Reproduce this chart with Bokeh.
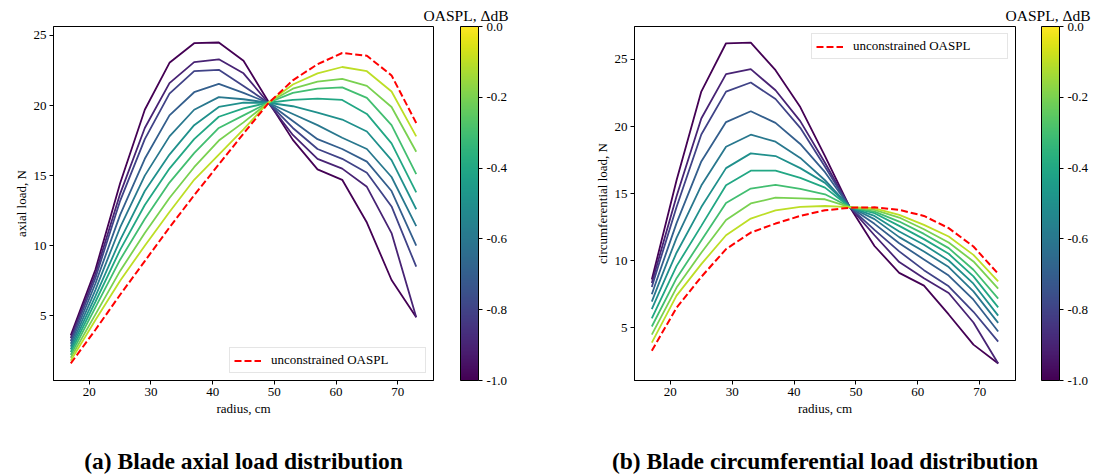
from bokeh.plotting import figure
from bokeh.layouts import row
from bokeh.models import (Range1d, FixedTicker, PrintfTickFormatter, LinearAxis,
                          Legend, LegendItem, ColorBar, LinearColorMapper)
from bokeh.palettes import Viridis256
from bokeh.embed import file_html
from bokeh.resources import INLINE

# ---------------- data ----------------
radius_cm = [17, 21, 25, 29, 33, 37, 41, 45, 49, 53, 57, 61, 65, 69, 73]
oaspl_levels = [-1.0, -0.9, -0.8, -0.7, -0.6, -0.5, -0.4, -0.3, -0.2, -0.1]
colorbar_ticks = [-1.0, -0.8, -0.6, -0.4, -0.2, 0.0]
x_ticks = [20, 30, 40, 50, 60, 70]
axial_y_ticks = [5, 10, 15, 20, 25]
circ_y_ticks = [5, 10, 15, 20, 25]

# axial load, N  (one list per OASPL constraint level)
axial_m10 = [3.6, 8.3, 14.45, 19.7, 23.05, 24.45, 24.5, 23.2, 20.3, 17.55, 15.45, 14.7, 11.65, 7.55, 4.9]
axial_m09 = [3.4, 8.0, 13.7, 18.4, 21.6, 23.1, 23.3, 22.3, 20.2, 17.9, 16.2, 15.5, 14.2, 10.9, 4.9]
axial_m08 = [3.2, 7.7, 13.2, 17.6, 20.85, 22.45, 22.55, 21.4, 20.2, 18.4, 16.9, 16.2, 15.2, 12.8, 8.5]
axial_m07 = [3.0, 7.3, 12.2, 16.2, 19.3, 20.95, 21.55, 20.9, 20.2, 18.9, 17.6, 16.9, 16.0, 13.9, 10.0]
axial_m06 = [2.8, 6.85, 11.3, 15.0, 17.8, 19.7, 20.6, 20.45, 20.2, 19.4, 18.6, 17.7, 16.9, 14.9, 11.4]
axial_m05 = [2.6, 6.4, 10.4, 13.9, 16.5, 18.6, 19.9, 20.2, 20.2, 19.95, 19.5, 19.0, 18.15, 16.1, 12.6]
axial_m04 = [2.4, 6.0, 9.7, 12.9, 15.5, 17.6, 19.2, 19.8, 20.2, 20.4, 20.5, 20.4, 19.4, 17.3, 13.8]
axial_m03 = [2.2, 5.6, 9.0, 11.9, 14.5, 16.6, 18.4, 19.3, 20.2, 20.9, 21.2, 21.3, 20.55, 18.6, 15.1]
axial_m02 = [2.0, 5.1, 8.2, 10.9, 13.4, 15.6, 17.5, 18.8, 20.2, 21.2, 21.7, 21.9, 21.4, 19.9, 16.7]
axial_m01 = [1.8, 4.7, 7.5, 10.0, 12.4, 14.7, 16.5, 18.3, 20.2, 21.5, 22.3, 22.75, 22.45, 21.0, 17.8]
axial_unconstrained = [1.6, 4.0, 6.5, 8.9, 11.3, 13.6, 15.8, 18.0, 20.15, 21.8, 22.95, 23.75, 23.55, 22.15, 18.75]

# circumferential load, N
circ_m10 = [8.6, 16.0, 22.6, 26.2, 26.25, 24.2, 21.45, 17.8, 14.0, 11.1, 9.1, 8.15, 6.0, 3.75, 2.35]
circ_m09 = [8.35, 14.8, 20.6, 23.9, 24.27, 22.7, 20.4, 17.3, 14.0, 11.9, 9.9, 8.7, 7.6, 5.4, 2.35]
circ_m08 = [8.05, 14.0, 19.4, 22.6, 23.28, 22.05, 19.9, 17.0, 14.0, 12.3, 10.7, 9.3, 8.1, 6.2, 3.98]
circ_m07 = [7.5, 12.8, 17.4, 20.33, 21.14, 20.27, 18.7, 16.6, 14.0, 12.75, 11.3, 10.1, 8.9, 7.1, 4.73]
circ_m06 = [6.95, 11.7, 15.6, 18.49, 19.39, 18.87, 17.66, 16.0, 14.0, 13.1, 11.76, 10.69, 9.53, 7.72, 5.37]
circ_m05 = [6.4, 10.6, 14.0, 16.9, 18.0, 17.8, 16.9, 15.8, 14.0, 13.34, 12.18, 11.19, 10.02, 8.29, 5.91]
circ_m04 = [5.7, 9.6, 12.6, 15.63, 16.71, 16.71, 16.17, 15.45, 14.0, 13.54, 12.6, 11.61, 10.52, 8.84, 6.53]
circ_m03 = [5.1, 8.7, 11.5, 14.3, 15.38, 15.65, 15.36, 14.95, 14.0, 13.66, 12.92, 12.0, 10.94, 9.33, 7.18]
circ_m02 = [4.5, 8.0, 10.6, 13.04, 14.27, 14.7, 14.65, 14.58, 14.0, 13.79, 13.22, 12.35, 11.36, 9.95, 7.92]
circ_m01 = [3.9, 7.4, 9.75, 11.9, 13.14, 13.76, 14.01, 14.08, 14.0, 13.91, 13.42, 12.67, 11.81, 10.44, 8.46]
circ_unconstrained = [3.3, 6.5, 8.8, 10.87, 12.1, 12.77, 13.34, 13.76, 13.95, 13.98, 13.79, 13.34, 12.43, 11.06, 9.03]

axial_series = [axial_m10, axial_m09, axial_m08, axial_m07, axial_m06,
                axial_m05, axial_m04, axial_m03, axial_m02, axial_m01]
circ_series = [circ_m10, circ_m09, circ_m08, circ_m07, circ_m06,
               circ_m05, circ_m04, circ_m03, circ_m02, circ_m01]

FONT = "Liberation Serif"


def style_axis(ax):
    ax.axis_label_text_font = FONT
    ax.axis_label_text_font_size = "13px"
    ax.axis_label_text_font_style = "normal"
    ax.axis_label_text_color = "black"
    ax.major_label_text_font = FONT
    ax.major_label_text_font_size = "13px"
    ax.major_label_text_color = "black"
    ax.major_tick_out = 4
    ax.major_tick_in = 0
    ax.major_tick_line_color = "black"
    ax.minor_tick_line_color = None
    ax.axis_line_color = "black"
    ax.major_label_standoff = 3
    ax.axis_label_standoff = 2


def make_panel(width, left, right, yrange, yticks, ylabel, series, unconstrained,
               legend_loc, caption, cb_gap):
    mapper = LinearColorMapper(palette=Viridis256, low=-1.0, high=0.0)
    p = figure(width=width, height=476, x_range=Range1d(14.2, 75.8),
               y_range=Range1d(*yrange), output_backend="svg", toolbar_location=None,
               min_border_left=left, min_border_right=right,
               min_border_top=26, min_border_bottom=95)
    p.xgrid.visible = False
    p.ygrid.visible = False
    p.outline_line_color = "black"
    p.outline_line_width = 1
    p.outline_line_alpha = 1.0

    xa = p.xaxis[0]
    ya = p.yaxis[0]
    xa.ticker = FixedTicker(ticks=x_ticks)
    ya.ticker = FixedTicker(ticks=yticks)
    xa.axis_label = "radius, cm"
    ya.axis_label = ylabel
    style_axis(xa)
    style_axis(ya)

    for lvl, vals in zip(oaspl_levels, series):
        color = Viridis256[int(round((lvl + 1.0) * 255))]
        p.line(radius_cm, vals, line_color=color, line_width=1.8)
    r = p.line(radius_cm, unconstrained, line_color="red", line_width=2, line_dash="7 3")

    legend = Legend(items=[LegendItem(label="unconstrained OASPL", renderers=[r])],
                    location=legend_loc, margin=7, padding=4, spacing=0,
                    label_standoff=10, glyph_width=27, glyph_height=15,
                    label_height=15, label_width=150,
                    label_text_font=FONT, label_text_font_size="13px",
                    label_text_color="black",
                    border_line_color="#cccccc", border_line_width=1,
                    background_fill_alpha=0.8)
    p.add_layout(legend)

    # blank axis used only as a gap between the frame and the colour bar
    spacer = LinearAxis(ticker=FixedTicker(ticks=[]), axis_label=" ",
                        axis_label_text_font=FONT, axis_label_text_font_size="10px",
                        axis_label_text_color="white", axis_label_standoff=cb_gap - 11,
                        major_tick_out=0, major_tick_in=0,
                        major_tick_line_color=None, minor_tick_line_color=None,
                        axis_line_color=None, major_label_standoff=0)
    p.add_layout(spacer, "right")

    cb = ColorBar(color_mapper=mapper, width=18, padding=0, margin=0, location="top_left",
                  ticker=FixedTicker(ticks=colorbar_ticks),
                  formatter=PrintfTickFormatter(format="%.1f"),
                  major_label_text_font=FONT, major_label_text_font_size="13px",
                  major_label_text_color="black",
                  major_tick_out=4, major_tick_in=0, major_tick_line_color="black",
                  minor_tick_line_color=None, bar_line_color="black", bar_line_width=1,
                  border_line_color=None, background_fill_color=None, label_standoff=4)
    p.add_layout(cb, "right")

    p.title.text = "OASPL, \u0394dB"
    p.title.align = "right"
    p.title.offset = -75
    p.title.standoff = 6
    p.title.text_font = FONT
    p.title.text_font_size = "15.5px"
    p.title.text_font_style = "normal"
    p.title.text_color = "black"

    cap = LinearAxis(ticker=FixedTicker(ticks=[]), axis_label=caption,
                     axis_line_color=None, major_tick_out=0, major_tick_in=0,
                     minor_tick_out=0, minor_tick_in=0, major_tick_line_color=None,
                     minor_tick_line_color=None, major_label_standoff=0,
                     axis_label_standoff=29, axis_label_text_font=FONT,
                     axis_label_text_font_size="23.5px",
                     axis_label_text_font_style="bold", axis_label_text_color="black")
    p.add_layout(cap, "below")
    return p


pa = make_panel(547, 53, 114, (0.38, 25.64), axial_y_ticks, "axial load, N",
                axial_series, axial_unconstrained, "bottom_right",
                "(a) Blade axial load distribution", 24)
pb = make_panel(547, 87, 79, (1.08, 27.45), circ_y_ticks, "circumferential load, N",
                circ_series, circ_unconstrained, "top_right",
                "(b) Blade circumferential load distribution", 23)

layout = row(pa, pb)
open("out.html", "w").write(file_html(layout, INLINE))
